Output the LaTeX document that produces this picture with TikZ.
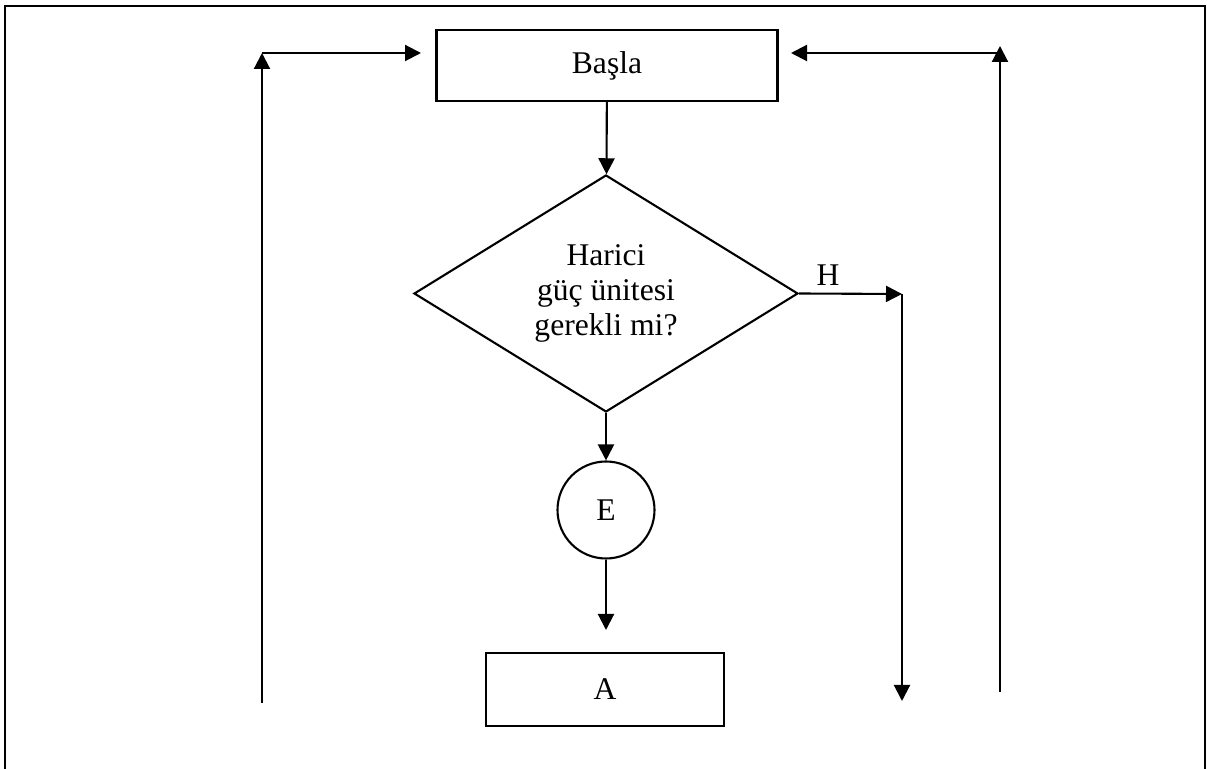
\documentclass[tikz,border=0pt]{standalone}
\usepackage{fontspec}
\setmainfont{Liberation Serif}
\usepackage{tikz}
\usetikzlibrary{arrows.meta,positioning,shapes.geometric}

\begin{document}
\begin{tikzpicture}[x=0.5pt,y=-0.5pt,line width=1.05pt,
  font=\fontsize{15.8}{17.3}\selectfont,
  box/.style={draw, rectangle, inner sep=0pt},
  decision/.style={draw, diamond, aspect=1.6, inner sep=0pt, align=center,
    minimum width=192pt, minimum height=118.5pt},
  connector/.style={draw, circle, inner sep=0pt, minimum size=48.5pt},
  flow/.style={-{Triangle[length=8pt,width=8pt]}}]
\useasboundingbox (0,0) rectangle (1207,769);

% Page frame (open at the bottom)
\draw[line width=1.1pt] (5,769) -- (5,6) -- (1205,6) -- (1205,769);

% Main chain
\node[box, minimum width=170.5pt, minimum height=35.5pt] (start) at (607,65.5) {Başla};
\node[decision] (ask) at (606,293.5) {Harici\\güç ünitesi\\gerekli mi?};
\node[connector] (yes) at (606,510) {E};
\node[box, minimum width=119pt, minimum height=36.5pt] (next) at (605,689.5) {A};

\draw[flow] (start) -- (ask);
\draw[flow] (ask) -- (yes);
\coordinate (yesEnd) at (606,630);
\draw[flow] (yes) -- (yesEnd);

% "No" branch
\coordinate (noTurn) at (902,294);
\coordinate (noEnd) at (902,701);
\draw[flow] (ask.east) -- (noTurn);
\node at (828,275) {H};
\draw[flow] (noTurn) -- (noEnd);

% Return lines to the start box
\coordinate (leftLow) at (262,703);
\coordinate (leftTop) at (262,53);
\coordinate (leftEnd) at (421,53);
\draw[flow] (leftLow) -- (leftTop);
\draw[flow] (leftTop) -- (leftEnd);

\coordinate (rightLow) at (1000,692);
\coordinate (rightTip) at (1000,46);
\coordinate (rightTop) at (1000,53);
\coordinate (rightEnd) at (791,53);
\draw[flow] (rightLow) -- (rightTip);
\draw[flow] (rightTop) -- (rightEnd);

\end{tikzpicture}
\end{document}
